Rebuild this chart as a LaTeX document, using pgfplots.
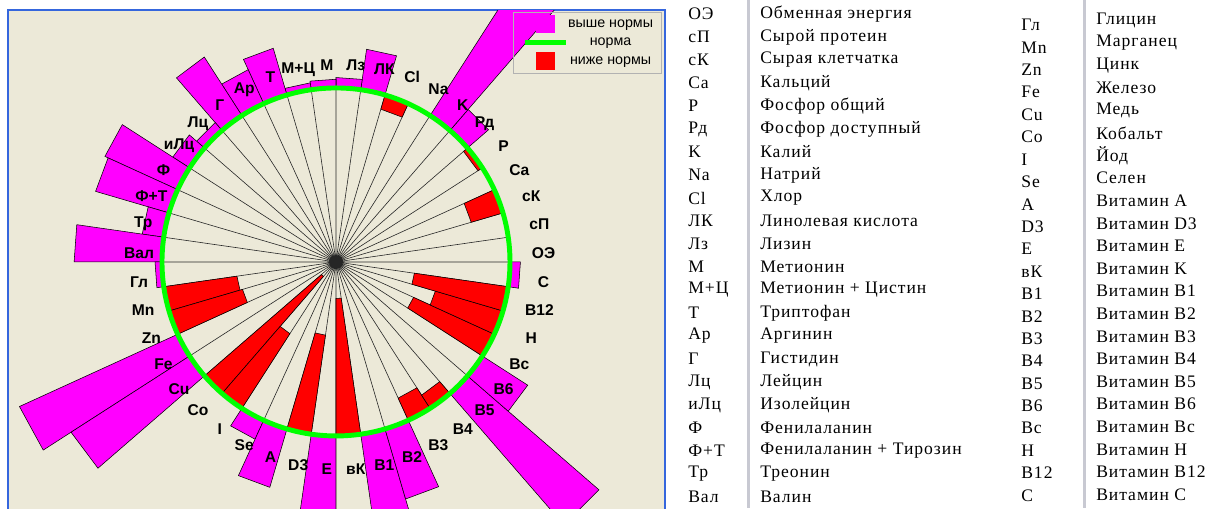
\documentclass[border=0pt]{standalone}
\usepackage{fontspec}
\setmainfont{Liberation Sans}
\newfontfamily\tabfont{Liberation Serif}[LetterSpace=5.5]
\usepackage{pgfplots}
\usepackage{pgfplotstable}
\pgfplotsset{compat=1.18}

\definecolor{bg}{HTML}{ECE9D8}
\definecolor{mag}{HTML}{FF00FF}
\definecolor{nred}{HTML}{FF0000}
\definecolor{ngreen}{HTML}{00FF00}
\definecolor{pblue}{HTML}{3566DD}
\definecolor{sepgray}{HTML}{C8C9D2}

% value relative to the norm (1 = norm)
\pgfplotstableread{
i v
0 1.00
1 1.00
2 0.81
3 1.00
4 0.97
5 1.16
6 2.00
7 1.00
8 0.915
9 1.235
10 1.06
11 1.05
12 1.04
13 1.28
14 1.215
15 1.40
16 1.06
17 1.115
18 1.46
19 1.44
20 1.125
21 1.505
22 1.04
23 0.575
24 0.56
25 2.00
26 1.81
27 0.11
28 0.49
29 1.12
30 1.35
31 0.425
32 2.00
33 0.21
34 2.00
35 1.42
36 0.86
37 0.91
38 2.00
39 1.31
40 0.49
41 0.595
42 0.455
43 1.06
}\bardata

\pgfplotstableread{
i lab
0 ОЭ
1 сП
2 сК
3 Ca
4 P
5 Рд
6 K
7 Na
8 Cl
9 ЛК
10 Лз
11 M
12 М+Ц
13 T
14 Ар
15 Г
16 Лц
17 иЛц
18 Ф
19 Ф+Т
20 Тр
21 Вал
22 Гл
23 Mn
24 Zn
25 Fe
26 Cu
27 Co
28 I
29 Se
30 A
31 D3
32 E
33 вК
34 B1
35 B2
36 B3
37 B4
38 B5
39 B6
40 Bc
41 H
42 B12
43 C
}\labdata

\newcommand\polbar[1]{%
  \pgfplotstablegetelem{#1}{v}\of\bardata
  \let\vv\pgfplotsretval
  \pgfmathsetmacro\aA{#1*360/44}%
  \pgfmathsetmacro\aB{(#1+1)*360/44}%
  \pgfmathparse{\vv>1?1:0}%
  \ifdim\pgfmathresult pt>0.5pt \def\bc{mag}\else\def\bc{nred}\fi
  \edef\tmp{\noexpand\addplot[data cs=polar, forget plot, fill=\bc, draw=black, line width=0.4pt]
    coordinates {(\aA,1) (\aA,\vv) (\aB,\vv) (\aB,1) (\aA,1)};}%
  \tmp
}

\def\spk{}
\foreach \k in {0,...,43}{\pgfmathsetmacro\a{\k*360/44}\xdef\spk{\spk (0,0) (\a,1)}}

\begin{document}
\begin{tikzpicture}
\useasboundingbox (0,0) rectangle (907.5pt,-381pt);
\clip (0,0) rectangle (907.5pt,-381pt);
\begin{axis}[
  at={(6pt,-7.5pt)}, anchor=north west,
  x=130.5pt, y=130.5pt,
  xmin=-1.885, xmax=1.891, ymin=-1.943, ymax=1.448,
  axis background/.style={fill=bg},
  axis line style={draw=pblue, line width=2pt},
  ticks=none,
  clip=true,
  legend style={at={(axis cs:1.8736,1.4368)}, anchor=north east,
    draw=gray!60, fill=none, inner xsep=6.5pt, inner ysep=2pt,
    row sep=0pt, column sep=0pt,
    font=\fontsize{10.7}{12}\selectfont,
    nodes={inner sep=0pt, text height=9.4pt, text depth=4.5pt}},
  legend cell align=center,
]
\edef\tmp{\noexpand\addplot[data cs=polar, forget plot, black!85, line width=0.45pt, line join=round] coordinates {\spk};}\tmp

\pgfplotsinvokeforeach{0,...,43}{\polbar{#1}}

\draw[ngreen, line width=3.7pt] (axis cs:0,0) circle[radius=1];

\addplot[data cs=polar, forget plot, draw=none, mark=none,
  point meta=explicit symbolic, nodes near coords,
  nodes near coords style={anchor=center, text=black, inner sep=0pt,
    xshift=4pt, yshift=-4pt,
    font=\bfseries\fontsize{11.7}{13}\selectfont}]
  table[x expr=(\thisrow{i}+0.5)*360/44, y expr=1.165, meta=lab] {\labdata};

\addlegendimage{legend image code/.code={\fill[mag] (0.3cm,-0.225cm) rectangle (0.77cm,0.225cm);}}
\addlegendentry{выше нормы}
\addlegendimage{legend image code/.code={\draw[ngreen, line width=3.7pt] (0cm,0cm) -- (1.08cm,0cm);}}
\addlegendentry{норма}
\addlegendimage{legend image code/.code={\fill[nred] (0.3cm,-0.225cm) rectangle (0.77cm,0.225cm);}}
\addlegendentry{ниже нормы}
\end{axis}

\begin{scope}[x=0.75pt,y=-0.75pt]
\fill[sepgray] (746.5,0) rectangle (749.5,508);
\fill[sepgray] (1082.5,0) rectangle (1085.5,508);
\begin{scope}[every node/.style={anchor=west, inner sep=0pt, font=\tabfont\fontsize{13.2}{15}\selectfont}]
\foreach \t [count=\k from 0] in {ОЭ,сП,сК,Ca,P,Рд,K,Na,Cl,ЛК,Лз,М,М+Ц,Т,Ар,Г,Лц,иЛц,Ф,Ф+Т,Тр,Вал}
  \node at (688,{14+23.0*\k}) {\t};
\foreach \t [count=\k from 0] in {Обменная энергия,Сырой протеин,Сырая клетчатка,Кальций,Фосфор общий,Фосфор доступный,Калий,Натрий,Хлор,Линолевая кислота,Лизин,Метионин,Метионин + Цистин,Триптофан,Аргинин,Гистидин,Лейцин,Изолейцин,Фенилаланин,Фенилаланин + Тирозин,Треонин,Валин}
  \node at (760,{14+23.0*\k}) {\t};
\foreach \t [count=\k from 0] in {Гл,Mn,Zn,Fe,Cu,Co,I,Se,A,D3,E,вК,B1,B2,B3,B4,B5,B6,Bc,H,B12,C}
  \node at (1021,{25+22.4*\k}) {\t};
\foreach \t [count=\k from 0] in {Глицин,Марганец,Цинк,Железо,Медь,Кобальт,Йод,Селен,Витамин A,Витамин D3,Витамин E,Витамин K,Витамин B1,Витамин B2,Витамин B3,Витамин B4,Витамин B5,Витамин B6,Витамин Bc,Витамин H,Витамин B12,Витамин C}
  \node at (1096,{20+22.6*\k}) {\t};
\end{scope}
\end{scope}
\end{tikzpicture}
\end{document}
